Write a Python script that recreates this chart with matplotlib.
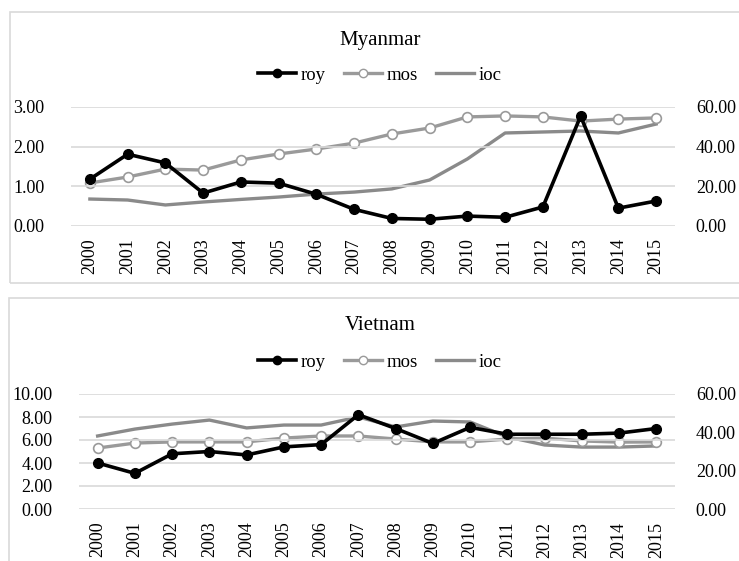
import matplotlib
matplotlib.use("Agg")
import matplotlib.pyplot as plt
from matplotlib.patches import Rectangle
from matplotlib.lines import Line2D

anos = [str(a) for a in range(2000, 2016)]

# Myanmar (roy no eixo esquerdo, mos e ioc no eixo direito)
mya_roy = [1.18, 1.81, 1.59, 0.83, 1.11, 1.08, 0.80, 0.42, 0.19, 0.17, 0.25, 0.22, 0.48, 2.77, 0.45, 0.63]
mya_mos = [21.7, 24.7, 28.7, 28.2, 33.3, 36.3, 38.8, 41.8, 46.4, 49.4, 55.0, 55.5, 55.0, 52.9, 53.9, 54.5]
mya_ioc = [13.6, 13.1, 10.6, 12.1, 13.4, 14.6, 16.1, 17.1, 18.7, 23.2, 33.8, 46.9, 47.4, 47.9, 46.9, 51.4]

# Vietnam
vie_roy = [4.0, 3.1, 4.8, 5.0, 4.7, 5.4, 5.6, 8.2, 7.0, 5.7, 7.1, 6.5, 6.5, 6.5, 6.6, 7.0]
vie_mos = [31.8, 34.4, 35.0, 35.0, 35.0, 37.0, 38.1, 38.1, 36.5, 35.0, 35.0, 36.5, 37.0, 35.5, 34.9, 35.0]
vie_ioc = [38.1, 41.7, 44.3, 46.4, 42.3, 43.8, 43.8, 48.0, 42.8, 45.9, 45.4, 37.6, 33.4, 32.3, 32.3, 32.9]

W, H = 739, 561
fonte = "Liberation Serif"
cinza_mos = "#9a9a9a"
cinza_ioc = "#8a8a8a"
grelha = "#d9d9d9"


# Desenha um painel (estilo Excel) com dois eixos
def painel(fig, caixa, rect, roy, mos, ioc, ymax_esq, passo_esq, titulo, y_titulo, y_leg):
    x0, y0, x1, y1 = caixa
    fig.patches.append(Rectangle((x0 / W, 1 - y1 / H), (x1 - x0) / W, (y1 - y0) / H,
                                 transform=fig.transFigure, fill=False,
                                 edgecolor=grelha, linewidth=1.2))
    l, t, r, b = rect
    ax = fig.add_axes([l / W, 1 - b / H, (r - l) / W, (b - t) / H])
    ax2 = ax.twinx()
    x = range(len(anos))

    ax2.plot(x, ioc, color=cinza_ioc, lw=2.4, zorder=2)
    ax2.plot(x, mos, color=cinza_mos, lw=2.4, marker="o", ms=7,
             mfc="white", mec=cinza_mos, mew=1.2, zorder=3)
    ax.plot(x, roy, color="black", lw=2.6, marker="o", ms=7, zorder=4)
    ax.set_zorder(ax2.get_zorder() + 1)
    ax.patch.set_visible(False)

    ax.set_xlim(-0.5, len(anos) - 0.5)
    ax.set_ylim(0, ymax_esq)
    ax.set_yticks([v * passo_esq for v in range(int(round(ymax_esq / passo_esq)) + 1)])
    ax2.set_ylim(0, 60)
    ax2.set_yticks([0, 20, 40, 60])
    ax.yaxis.set_major_formatter(lambda v, p: "%.2f" % v)
    ax2.yaxis.set_major_formatter(lambda v, p: "%.2f" % v)
    ax.set_xticks(list(x))
    ax.set_xticklabels(anos, rotation=90, fontfamily=fonte, fontsize=12.5)
    for a in (ax, ax2):
        for s in a.spines.values():
            s.set_visible(False)
        a.tick_params(length=0, labelsize=13)
        for lab in a.get_yticklabels():
            lab.set_fontfamily(fonte)
    ax.tick_params(axis="y", pad=19)
    ax2.tick_params(axis="y", pad=15)
    ax.tick_params(axis="x", pad=9)
    ax.grid(axis="y", color=grelha, lw=1.2)
    ax.set_axisbelow(True)

    fig.text(380 / W, 1 - y_titulo / H, titulo, ha="center", va="center",
             fontfamily=fonte, fontsize=15)
    hs = [Line2D([], [], color="black", lw=2.6, marker="o", ms=6),
          Line2D([], [], color=cinza_mos, lw=2.4, marker="o", ms=6, mfc="white", mec=cinza_mos),
          Line2D([], [], color=cinza_ioc, lw=2.4)]
    fig.legend(hs, ["roy", "mos", "ioc"], loc="center", bbox_to_anchor=(380 / W, 1 - y_leg / H),
               ncol=3, frameon=False, prop={"family": fonte, "size": 13.5},
               handlelength=2.0, handletextpad=0.25, columnspacing=1.0)


fig = plt.figure(figsize=(W / 100, H / 100), dpi=100)
painel(fig, (10, 12, 760, 283), (71, 107, 675, 226), mya_roy, mya_mos, mya_ioc,
       3, 1, "Myanmar", 40, 75)
painel(fig, (9, 298, 760, 580), (79, 394, 675, 509), vie_roy, vie_mos, vie_ioc,
       10, 2, "Vietnam", 325, 362)
fig.savefig("out.png", dpi=100)
